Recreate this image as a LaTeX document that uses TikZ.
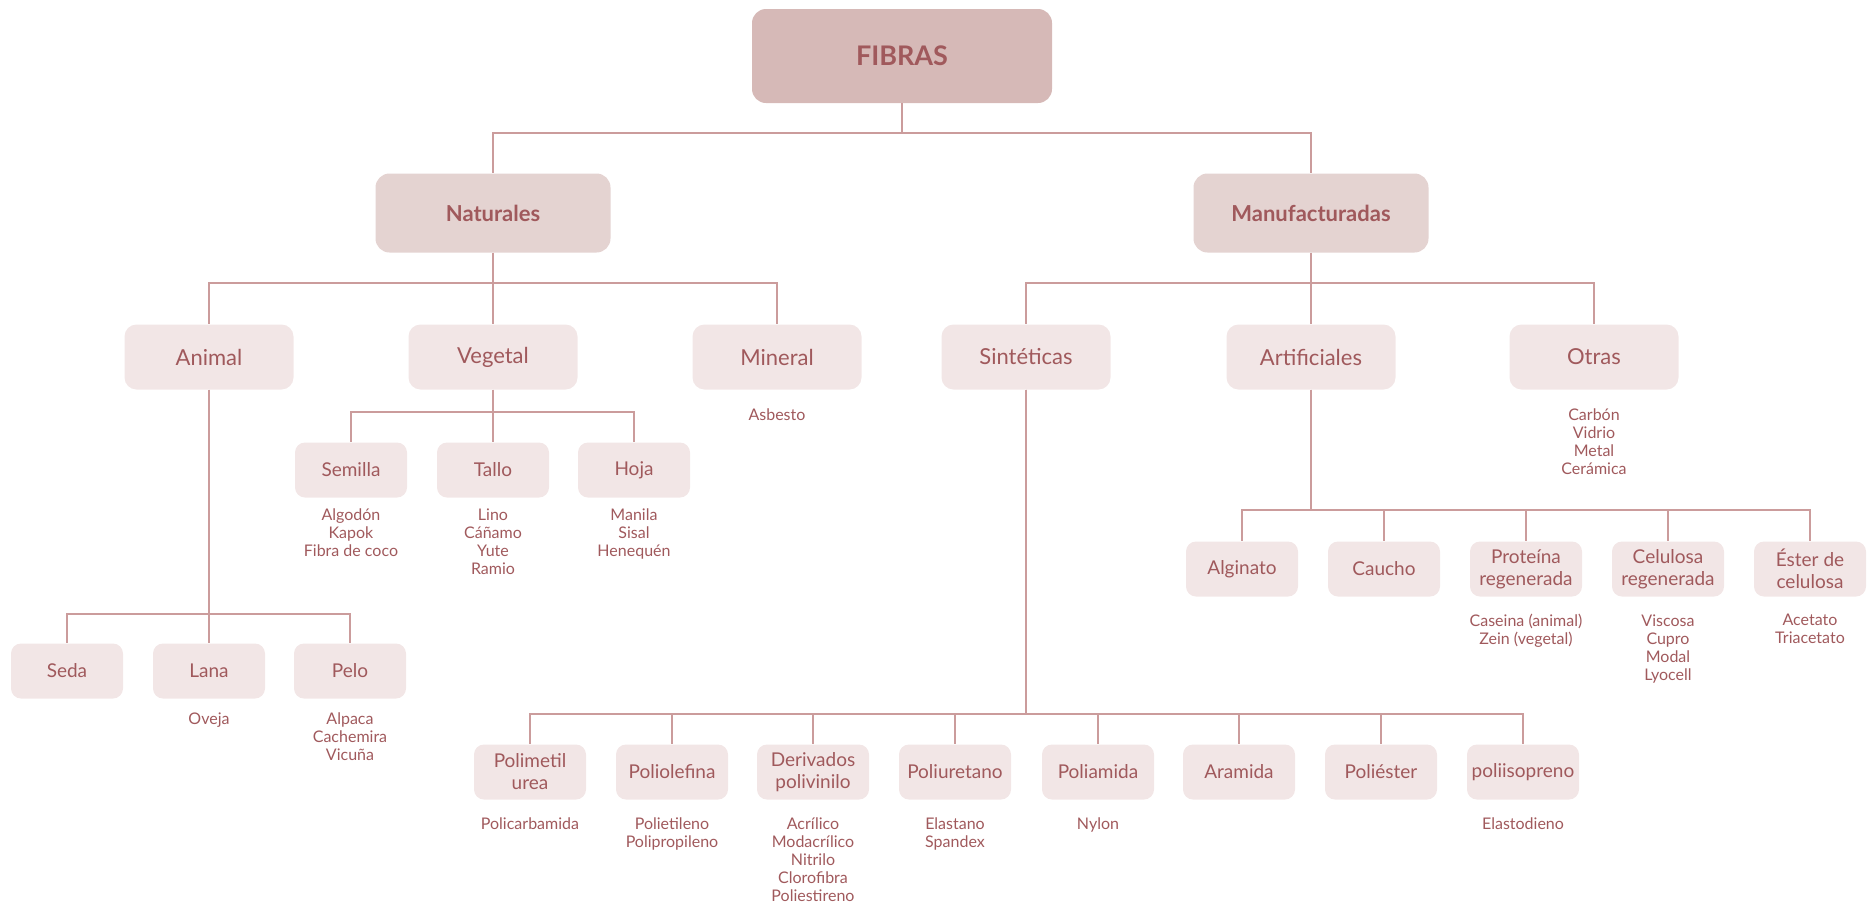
\documentclass[tikz,border=0pt]{standalone}
\usepackage{fontspec}
\setmainfont{Lato}
\definecolor{ink}{HTML}{A0595C}
\definecolor{wire}{HTML}{CB9C9C}
\definecolor{rootfill}{HTML}{D6B9B7}
\definecolor{midfill}{HTML}{E4D3D1}
\definecolor{leaffill}{HTML}{F2E6E6}
\tikzset{
  box/.style={rounded corners=5pt, inner sep=1pt, align=center, text=ink},
  rootbox/.style={box, fill=rootfill, rounded corners=7pt, minimum width=150pt, minimum height=47pt, font=\fontsize{13.5}{16}\selectfont\bfseries},
  midbox/.style={box, fill=midfill, rounded corners=7pt, minimum width=117.5pt, minimum height=39.5pt, font=\fontsize{11}{13}\selectfont\bfseries},
  groupbox/.style={box, fill=leaffill, rounded corners=6pt, minimum width=84.5pt, minimum height=32.5pt, font=\fontsize{11}{13}\selectfont},
  leafbox/.style={box, fill=leaffill, minimum width=56pt, minimum height=27.5pt, font=\fontsize{9.5}{11}\selectfont},
  items/.style={anchor=north, inner sep=0pt, align=center, text=ink, font=\fontsize{8}{9}\selectfont},
  link/.style={draw=wire, line width=0.9pt}
}
\begin{document}
\begin{tikzpicture}[x=0.5pt,y=-0.5pt]
\useasboundingbox (0,0) rectangle (1875,905);

% root and first level
\node[rootbox] (fibras) at (902,56) {FIBRAS};
\node[midbox] (nat) at (493,213) {Naturales};
\node[midbox] (man) at (1311,213) {Manufacturadas};

% second level
\node[groupbox] (animal) at (209,357) {Animal};
\node[groupbox] (vegetal) at (493,357) {Vegetal};
\node[groupbox] (mineral) at (777,357) {Mineral};
\node[groupbox] (sint) at (1026,357) {Sintéticas};
\node[groupbox] (artif) at (1311,357) {Artificiales};
\node[groupbox] (otras) at (1594,357) {Otras};

% vegetal
\node[leafbox] (semilla) at (351,470) {Semilla};
\node[leafbox] (tallo) at (493,470) {Tallo};
\node[leafbox] (hoja) at (634,470) {Hoja};

% animal
\node[leafbox] (seda) at (67,671) {Seda};
\node[leafbox] (lana) at (209,671) {Lana};
\node[leafbox] (pelo) at (350,671) {Pelo};

% artificiales
\node[leafbox] (alginato) at (1242,569) {Alginato};
\node[leafbox] (caucho) at (1384,569) {Caucho};
\node[leafbox] (proteina) at (1526,569) {Proteína\\regenerada};
\node[leafbox] (celulosa) at (1668,569) {Celulosa\\regenerada};
\node[leafbox] (ester) at (1810,569) {Éster de\\celulosa};

% sinteticas
\node[leafbox] (polimetil) at (530,772) {Polimetil\\urea};
\node[leafbox] (poliolefina) at (672,772) {Poliolefina};
\node[leafbox] (derivados) at (813,772) {Derivados\\polivinilo};
\node[leafbox] (poliuretano) at (955,772) {Poliuretano};
\node[leafbox] (poliamida) at (1098,772) {Poliamida};
\node[leafbox] (aramida) at (1239,772) {Aramida};
\node[leafbox] (poliester) at (1381,772) {Poliéster};
\node[leafbox] (poliisopreno) at (1523,772) {poliisopreno};

% example lists
\node[items] (l-mineral) at (777,408) {Asbesto};
\node[items] (l-otras) at (1594,408) {Carbón\\Vidrio\\Metal\\Cerámica};
\node[items] (l-semilla) at (351,508) {Algodón\\Kapok\\Fibra de coco};
\node[items] (l-tallo) at (493,508) {Lino\\Cáñamo\\Yute\\Ramio};
\node[items] (l-hoja) at (634,508) {Manila\\Sisal\\Henequén};
\node[items] (l-lana) at (209,712) {Oveja};
\node[items] (l-pelo) at (350,712) {Alpaca\\Cachemira\\Vicuña};
\node[items] (l-proteina) at (1526,614) {Caseina (animal)\\Zein (vegetal)};
\node[items] (l-celulosa) at (1668,614) {Viscosa\\Cupro\\Modal\\Lyocell};
\node[items] (l-ester) at (1810,614) {Acetato\\Triacetato};
\node[items] (l-polimetil) at (530,817) {Policarbamida};
\node[items] (l-poliolefina) at (672,817) {Polietileno\\Polipropileno};
\node[items] (l-derivados) at (813,817) {Acrílico\\Modacrílico\\Nitrilo\\Clorofibra\\Poliestireno};
\node[items] (l-poliuretano) at (955,817) {Elastano\\Spandex};
\node[items] (l-poliamida) at (1098,817) {Nylon};
\node[items] (l-poliisopreno) at (1523,817) {Elastodieno};

% connectors
\foreach \c in {nat,man} \draw[link] (fibras.south) -- ++(0,29.5) -| (\c.north);
\foreach \c in {animal,vegetal,mineral} \draw[link] (nat.south) -- ++(0,30) -| (\c.north);
\foreach \c in {sint,artif,otras} \draw[link] (man.south) -- ++(0,30) -| (\c.north);
\foreach \c in {semilla,tallo,hoja} \draw[link] (vegetal.south) -- ++(0,22) -| (\c.north);
\foreach \c in {seda,lana,pelo} \draw[link] (animal.south) -- ++(0,224) -| (\c.north);
\foreach \c in {alginato,caucho,proteina,celulosa,ester} \draw[link] (artif.south) -- ++(0,120) -| (\c.north);
\foreach \c in {polimetil,poliolefina,derivados,poliuretano,poliamida,aramida,poliester,poliisopreno} \draw[link] (sint.south) -- ++(0,324) -| (\c.north);
\end{tikzpicture}
\end{document}
